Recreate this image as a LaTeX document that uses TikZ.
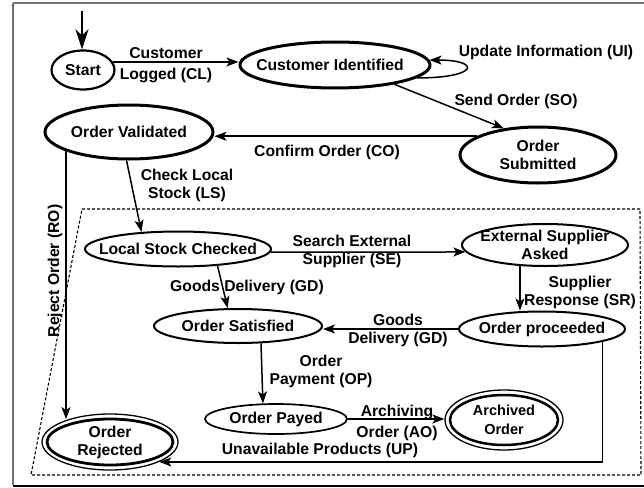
\documentclass[tikz,border=0pt]{standalone}
\usepackage{fontspec}
\setmainfont{Liberation Sans}
\usetikzlibrary{shapes.geometric,arrows.meta}
\newcommand\diagfont{\fontsize{15.7pt}{18pt}\selectfont\bfseries}
\newcommand\widefont{\fontsize{15.7pt}{20.5pt}\selectfont\bfseries}
\newcommand\arcfont{\fontsize{14.5pt}{19pt}\selectfont\bfseries}
\tikzset{
  state/.style={ellipse, draw, inner sep=0pt},
  lbl/.style={align=center, font=\diagfont, inner sep=0pt},
  edge/.style={draw, line width=1.5pt, -{Stealth[length=12pt,width=9pt,inset=3pt]}},
  initedge/.style={draw, line width=2.6pt, -{Stealth[length=20pt,width=13pt,inset=6pt]}},
  framegray/.style={draw=black!55, line width=1.2pt},
  region/.style={draw, line width=1.1pt, dash pattern=on 3pt off 2pt},
}
\begin{document}
\begin{tikzpicture}[x=1pt,y=-1pt]
\useasboundingbox (0,0) rectangle (644,487);

% outer frame
\draw[framegray] (13,3) -- (644,3);
\draw[framegray, -{Latex[length=4pt,width=4pt]}] (13,485) -- (13,2);
\draw[line width=2pt] (13,486) -- (644,486);

% dashed region around the stock handling part
\draw[region] (82,209) -- (640,209) -- (641,475) -- (31,475) -- cycle;

% states
\node[state, line width=2.2pt, minimum width=63pt, minimum height=39pt,
      label={[lbl]center:Start}] (start) at (83,70) {};
\node[state, line width=3pt, minimum width=190pt, minimum height=46pt,
      label={[lbl, xshift=-5pt]center:Customer Identified}] (ci) at (335,65) {};
\node[state, line width=3pt, minimum width=156pt, minimum height=56pt,
      label={[lbl]center:Order\\Submitted}] (os) at (538,155) {};
\node[state, line width=3pt, minimum width=168pt, minimum height=54pt,
      label={[lbl]center:Order Validated}] (ov) at (129,132) {};
\node[state, line width=2pt, minimum width=186pt, minimum height=35pt,
      label={[lbl]center:Local Stock Checked}] (lsc) at (178,249) {};
\node[state, line width=2pt, minimum width=166pt, minimum height=42pt,
      label={[lbl]center:External Supplier\\Asked}] (esa) at (545,245) {};
\node[state, line width=2pt, minimum width=166pt, minimum height=35pt,
      label={[lbl]center:Order proceeded}] (opr) at (542,329) {};
\node[state, line width=2pt, minimum width=168pt, minimum height=34pt,
      label={[lbl]center:Order Satisfied}] (osat) at (238,326) {};
\node[state, line width=1.7pt, minimum width=142pt, minimum height=30pt,
      label={[lbl]center:Order Payed}] (opay) at (276,419) {};
\node[state, line width=1.3pt, minimum width=136pt, minimum height=56pt,
      label={[lbl]center:Order\\Rejected}] (rej) at (110,442) {};
\draw[line width=2.8pt] (rej.center) ellipse [x radius=63pt, y radius=23pt];
\node[state, line width=1.3pt, minimum width=118pt, minimum height=60pt,
      label={[lbl, font=\arcfont]center:Archived\\Order}] (ao) at (504,420) {};
\draw[line width=2.5pt] (ao.center) ellipse [x radius=54pt, y radius=25pt];

% initial transition
\coordinate (init) at (82,11);
\draw[initedge] (init) -- (start.north -| init);

% transitions
\draw[edge] (start.15) -- (start.15 -| ci.west);
\node[lbl, font=\widefont] (lcl) at (166,65) {Customer\\Logged (CL)};

\draw[edge] (ci.-9) .. controls +(62,0) and +(52,0) .. (ci.3);
\node[lbl] (lui) at (546,52) {Update Information (UI)};

\draw[edge] (ci.-18) -- (os.142);
\node[lbl] (lso) at (516,101) {Send Order (SO)};

\draw[edge] (os.163) -- (os.163 -| ov.east);
\node[lbl] (lco) at (327,152) {Confirm Order (CO)};

\draw[edge] (ov.-95) -- (lsc.155);
\node[lbl] (lls) at (187,185) {Check Local\\Stock (LS)};

\draw[edge] (ov.-163) -- (ov.-163 |- rej.151);
\node[lbl, rotate=90] (lro) at (55,271) {Reject Order (RO)};

\draw[edge] (lsc.-2) -- (esa.185);
\node[lbl] (lse) at (352,251) {Search External\\Supplier (SE)};

\draw[edge] (esa.-140) -- (esa.-140 |- opr.north);
\node[lbl] (lsr) at (580,292) {Supplier\\Response (SR)};

\draw[edge] (opr.west) -- (opr.west -| osat.east);
\node[lbl] (lgd2) at (398,330) {Goods\\Delivery (GD)};

\draw[edge] (lsc.-23) -- (osat.120);
\node[lbl] (lgd1) at (247,287) {Goods Delivery (GD)};

\draw[edge] (osat.-37) -- (opay.130);
\node[lbl] (lop) at (321,371) {Order\\Payment (OP)};

\draw[edge] (opay.east) -- (opay.east -| ao.west);
\node[lbl, font=\widefont] (lao) at (397,423) {Archiving\\Order (AO)};

\draw[edge] (opr.-12) |- (rej.-22);
\node[lbl] (lup) at (320,450) {Unavailable Products (UP)};
\end{tikzpicture}
\end{document}
